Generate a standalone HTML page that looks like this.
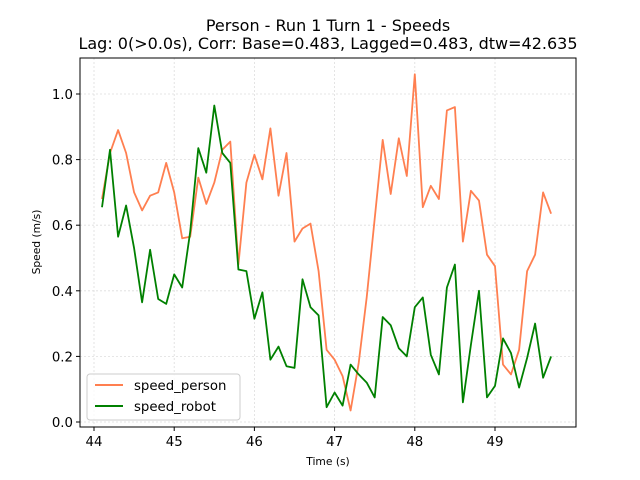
<!DOCTYPE html>
<html><head><meta charset="utf-8"><style>body{margin:0;background:#fff}svg{display:block;font-family:"DejaVu Sans","Liberation Sans",sans-serif}</style></head>
<body>
<svg id="chart" width="640" height="480">
<text x="328" y="31" text-anchor="middle" font-size="16">Person - Run 1 Turn 1 - Speeds</text>
<text x="328" y="49" text-anchor="middle" font-size="16">Lag: 0(&gt;0.0s), Corr: Base=0.483, Lagged=0.483, dtw=42.635</text>
<g id="grid"></g><g id="axes"></g><g id="series"></g>
<rect x="80" y="58" width="496" height="369" fill="none" stroke="#000" stroke-width="1"/>
<text x="328" y="465" text-anchor="middle" font-size="10.7">Time (s)</text>
<text transform="translate(40,242) rotate(-90)" text-anchor="middle" font-size="10.7">Speed (m/s)</text>
<g>
<rect x="87" y="374" width="153" height="46" rx="3" fill="#fff" fill-opacity="0.8" stroke="#ccc"/>
<line x1="95" y1="385" x2="123" y2="385" stroke="#ff7f50" stroke-width="2"/>
<text x="134" y="390" font-size="13.3">speed_person</text>
<line x1="95" y1="406" x2="123" y2="406" stroke="#008000" stroke-width="2"/>
<text x="134" y="411" font-size="13.3">speed_robot</text>
</g>
</svg>
<script>
const startTime = 44.1;
const stepTime = 0.1;
const speedPerson = [0.68,0.82,0.89,0.82,0.70,0.645,0.69,0.70,0.79,0.70,0.56,0.565,0.745,0.665,0.73,0.83,0.855,0.48,0.73,0.815,0.74,0.895,0.69,0.82,0.55,0.59,0.605,0.46,0.22,0.19,0.14,0.035,0.18,0.38,0.62,0.86,0.695,0.865,0.75,1.06,0.655,0.72,0.68,0.95,0.96,0.55,0.705,0.675,0.51,0.475,0.175,0.145,0.22,0.46,0.51,0.70,0.635];
const speedRobot = [0.655,0.83,0.565,0.66,0.53,0.365,0.525,0.375,0.36,0.45,0.41,0.58,0.835,0.76,0.965,0.82,0.79,0.465,0.46,0.315,0.395,0.19,0.23,0.17,0.165,0.435,0.35,0.325,0.045,0.09,0.05,0.175,0.145,0.12,0.075,0.32,0.295,0.225,0.2,0.35,0.38,0.205,0.145,0.41,0.48,0.06,0.235,0.40,0.075,0.11,0.255,0.21,0.105,0.195,0.30,0.135,0.2];
const xTicks = [44,45,46,47,48,49];
const yTicks = [0.0,0.2,0.4,0.6,0.8,1.0];
const NS='http://www.w3.org/2000/svg';
function xs(v){return 94+(v-44)*80.2;}
function ys(v){return 422-v*328;}
function mk(tag,attrs,parent){const e=document.createElementNS(NS,tag);for(const k in attrs)e.setAttribute(k,attrs[k]);document.getElementById(parent).appendChild(e);return e;}
xTicks.forEach(t=>{
  const g=mk('line',{x1:xs(t),x2:xs(t),y1:58,y2:427,stroke:'#ddd','stroke-width':0.8,'stroke-dasharray':'2,2'},'grid');
  
  
  const tk=mk('line',{x1:xs(t),x2:xs(t),y1:427,y2:431,stroke:'#000'},'axes');
  
  
  const lb=mk('text',{x:xs(t),y:446,'text-anchor':'middle','font-size':'13.3'},'axes');
  lb.textContent=t;
  
  
});
yTicks.forEach(t=>{
  const g=mk('line',{x1:80,x2:576,y1:ys(t),y2:ys(t),stroke:'#ddd','stroke-width':0.8,'stroke-dasharray':'2,2'},'grid');
  
  
  const tk=mk('line',{x1:76,x2:80,y1:ys(t),y2:ys(t),stroke:'#000'},'axes');
  
  
  const lb=mk('text',{x:73,y:ys(t)+5,'text-anchor':'end','font-size':'13.3'},'axes');
  lb.textContent=t.toFixed(1);
  
  
});
function line(arr,color,name){
  const pts=arr.map((v,i)=>xs(startTime+i*stepTime).toFixed(1)+','+ys(v).toFixed(1)).join(' ');
  const p=mk('polyline',{points:pts,fill:'none',stroke:color,'stroke-width':1.8,'stroke-linejoin':'round'},'series');
  
  
}
line(speedPerson,'#ff7f50','speed-person-line');
line(speedRobot,'#008000','speed-robot-line');
</script>
</body></html>
